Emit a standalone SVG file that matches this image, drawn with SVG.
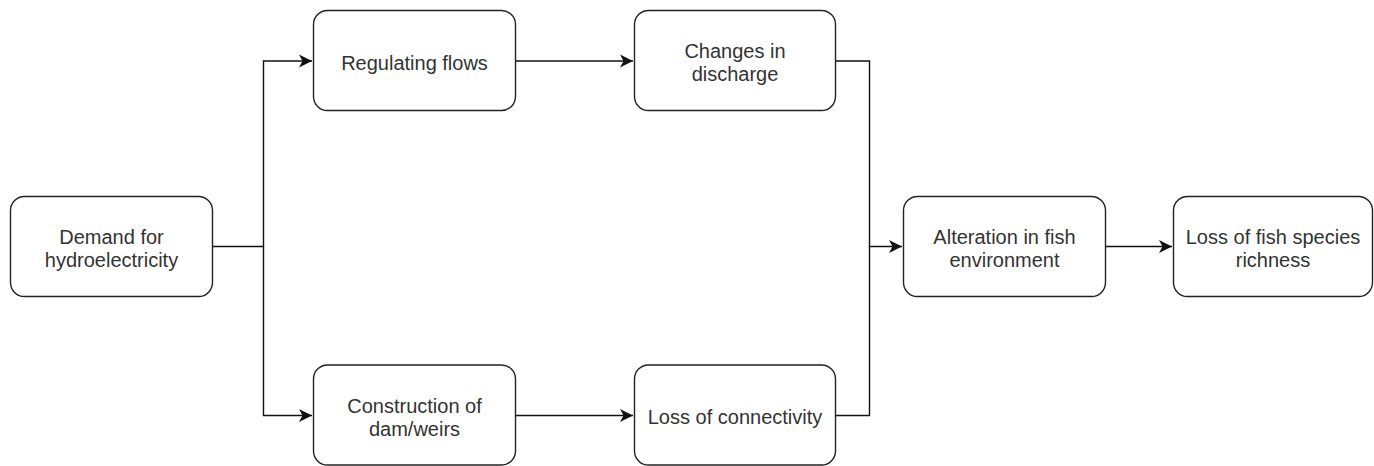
<svg xmlns="http://www.w3.org/2000/svg" width="1374" height="466" viewBox="0 0 1374 466">
  <style>
    .box { fill: #ffffff; stroke: #222222; stroke-width: 1.4; }
    .lbl { font-family: "Liberation Sans", Arial, sans-serif; font-size: 20px; fill: #333333; text-anchor: middle; }
    .edge { fill: none; stroke: #111111; stroke-width: 1.4; }
  </style>
  <defs>
    <marker id="arr" markerUnits="userSpaceOnUse" markerWidth="14" markerHeight="14" viewBox="-13 -7 14 14" refX="0" refY="0" orient="auto">
      <path d="M0,0 L-13,-6.5 L-9.5,0 L-13,6.5 Z" fill="#111111"/>
    </marker>
  </defs>
  <rect width="1374" height="466" fill="#ffffff"/>

  <g id="connectors">
    <path class="edge" d="M213,246.5 H263.5 V61 H312" marker-end="url(#arr)"/>
    <path class="edge" d="M263.5,246.5 V415.5 H312" marker-end="url(#arr)"/>
    <path class="edge" d="M516,61 H633" marker-end="url(#arr)"/>
    <path class="edge" d="M516,415.5 H633" marker-end="url(#arr)"/>
    <path class="edge" d="M836,61 H869.5 V246.5 H902" marker-end="url(#arr)"/>
    <path class="edge" d="M836,415.5 H869.5 V246.5"/>
    <path class="edge" d="M1106,246.5 H1172" marker-end="url(#arr)"/>
  </g>

  <g id="node-demand">
    <rect class="box" x="10.5" y="196.5" width="202" height="100" rx="14"/>
    <text class="lbl" x="111.5" y="244">Demand for</text>
    <text class="lbl" x="111.5" y="267">hydroelectricity</text>
  </g>
  <g id="node-regulating">
    <rect class="box" x="313.5" y="10.5" width="202" height="100" rx="14"/>
    <text class="lbl" x="414.5" y="70">Regulating flows</text>
  </g>
  <g id="node-changes">
    <rect class="box" x="634.5" y="10.5" width="201" height="100" rx="14"/>
    <text class="lbl" x="735" y="58">Changes in</text>
    <text class="lbl" x="735" y="81">discharge</text>
  </g>
  <g id="node-construction">
    <rect class="box" x="313.5" y="365" width="202" height="100" rx="14"/>
    <text class="lbl" x="414.5" y="413">Construction of</text>
    <text class="lbl" x="414.5" y="436">dam/weirs</text>
  </g>
  <g id="node-connectivity">
    <rect class="box" x="634.5" y="365" width="201" height="100" rx="14"/>
    <text class="lbl" x="735" y="424">Loss of connectivity</text>
  </g>
  <g id="node-alteration">
    <rect class="box" x="903.5" y="196.5" width="202" height="100" rx="14"/>
    <text class="lbl" x="1004.5" y="244">Alteration in fish</text>
    <text class="lbl" x="1004.5" y="267">environment</text>
  </g>
  <g id="node-richness">
    <rect class="box" x="1173.5" y="196.5" width="199" height="100" rx="14"/>
    <text class="lbl" x="1273" y="244">Loss of fish species</text>
    <text class="lbl" x="1273" y="267">richness</text>
  </g>
</svg>
